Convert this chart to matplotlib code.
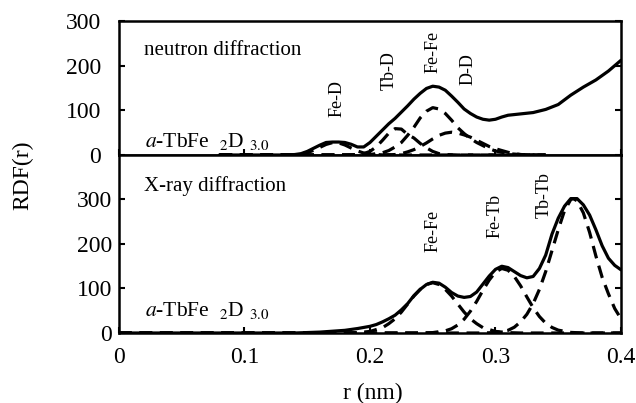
import matplotlib
matplotlib.use("Agg")
import matplotlib.pyplot as plt

plt.rcParams['font.family'] = ['Liberation Serif', 'DejaVu Serif']
plt.rcParams['mathtext.fontset'] = 'stix'

# ---- neutron diffraction (top) ----
n_r = [0.08, 0.10, 0.13, 0.14, 0.145, 0.15, 0.155, 0.16, 0.165, 0.17, 0.175, 0.18, 0.185, 0.19, 0.195,
       0.20, 0.205, 0.21, 0.215, 0.22, 0.225, 0.23, 0.235, 0.24, 0.245, 0.25, 0.255, 0.26, 0.265,
       0.27, 0.275, 0.28, 0.285, 0.29, 0.295, 0.30, 0.305, 0.31, 0.32, 0.33, 0.34, 0.35, 0.36,
       0.37, 0.38, 0.39, 0.40]
n_total = [0, 0, 0, 1, 3, 8, 15, 22, 28, 29, 29, 28, 24, 18, 18,
           28, 42, 56, 70, 82, 96, 110, 125, 138, 149, 154, 152, 145, 132,
           118, 103, 93, 85, 80, 78, 80, 85, 89, 92, 95, 102, 113, 134,
           152, 168, 188, 212]

fed_r = [0.08, 0.13, 0.14, 0.145, 0.15, 0.155, 0.16, 0.165, 0.17, 0.175, 0.18, 0.185, 0.19, 0.195, 0.20, 0.21, 0.22, 0.34]
fed_v = [0, 0.6, 0.8, 2.2, 5.2, 10.3, 17, 23.6, 27.6, 27.1, 22.4, 15.6, 9.1, 4.4, 1.8, 0.2, 0, 0]

tbd_r = [0.08, 0.18, 0.19, 0.195, 0.20, 0.205, 0.21, 0.215, 0.22, 0.225, 0.23, 0.235, 0.24, 0.245, 0.25, 0.255, 0.26, 0.27, 0.34]
tbd_v = [0, 0, 0.9, 3, 8.1, 18.2, 33, 49, 59, 58, 46, 38, 26, 16, 8, 3, 1, 0, 0]

fefe_n_r = [0.08, 0.19, 0.20, 0.21, 0.215, 0.22, 0.225, 0.23, 0.235, 0.24, 0.245, 0.25, 0.255, 0.26, 0.265,
            0.27, 0.275, 0.28, 0.285, 0.29, 0.295, 0.30, 0.305, 0.31, 0.32, 0.33, 0.34]
fefe_n_v = [0, 0, 1, 5, 10, 18, 28, 44, 62, 83, 98, 106, 103, 93, 78,
            61, 48, 37, 28, 21, 14, 9, 6, 3, 1, 0, 0]

dd_r = [0.08, 0.21, 0.22, 0.225, 0.23, 0.235, 0.24, 0.245, 0.25, 0.255, 0.26, 0.265, 0.27, 0.275, 0.28,
        0.285, 0.29, 0.295, 0.30, 0.305, 0.31, 0.315, 0.32, 0.33, 0.34]
dd_v = [0, 0, 1, 3, 7, 12, 19, 27, 36, 44, 49, 51, 49, 45, 40,
        33, 26, 19, 14, 10, 6, 3, 1, 0, 0]

# ---- X-ray diffraction (bottom) ----
x_r = [0.0, 0.05, 0.10, 0.14, 0.15, 0.16, 0.17, 0.18, 0.19, 0.20, 0.205, 0.21, 0.215, 0.22, 0.225,
       0.23, 0.235, 0.24, 0.245, 0.25, 0.255, 0.26, 0.265, 0.27, 0.275, 0.28, 0.285, 0.29, 0.295,
       0.30, 0.305, 0.31, 0.315, 0.32, 0.325, 0.33, 0.335, 0.34, 0.345, 0.35, 0.355, 0.36, 0.365,
       0.37, 0.375, 0.38, 0.385, 0.39, 0.395, 0.40]
x_total = [0, 0, 0, 0, 1, 2, 4, 6, 10, 15, 19, 25, 32, 40, 52,
           66, 84, 98, 109, 114, 112, 103, 91, 83, 80, 82, 92, 110, 128,
           143, 150, 147, 138, 129, 124, 127, 145, 175, 222, 258, 285, 302, 302,
           288, 265, 232, 196, 168, 152, 142]

fefe_x_r = [0.0, 0.15, 0.18, 0.19, 0.20, 0.21, 0.215, 0.22, 0.225, 0.23, 0.235, 0.24, 0.245, 0.25, 0.255,
            0.26, 0.265, 0.27, 0.275, 0.28, 0.285, 0.29, 0.30, 0.31, 0.32, 0.40]
fefe_x_v = [0, 0, 0.1, 0.8, 3.5, 12, 21, 32, 47, 65, 83, 98, 109, 113, 109,
            98, 83, 65, 47, 32, 21, 12, 3.5, 0.8, 0, 0]

fetb_r = [0.0, 0.24, 0.25, 0.26, 0.265, 0.27, 0.275, 0.28, 0.285, 0.29, 0.295, 0.30, 0.305, 0.31, 0.315,
          0.32, 0.325, 0.33, 0.335, 0.34, 0.345, 0.35, 0.36, 0.37, 0.40]
fetb_v = [0, 0, 0.9, 4.8, 9.6, 18, 31, 49, 71, 96, 119, 137, 145, 141, 127,
          106, 81, 57, 37, 22, 12.5, 6.4, 1.3, 0, 0]

tbtb_r = [0.0, 0.29, 0.30, 0.31, 0.315, 0.32, 0.325, 0.33, 0.335, 0.34, 0.345, 0.35, 0.355, 0.36, 0.362,
          0.365, 0.37, 0.375, 0.38, 0.385, 0.39, 0.395, 0.40]
tbtb_v = [0, 0, 1, 6, 13, 25, 42, 66, 98, 138, 185, 232, 275, 300, 302,
          297, 270, 226, 173, 125, 88, 55, 32]

top_labels = ['Fe-D', 'Tb-D', 'Fe-Fe', 'D-D']
top_label_r = [0.174, 0.215, 0.250, 0.278]
top_label_y = [85, 145, 183, 157]
bot_labels = ['Fe-Fe', 'Fe-Tb', 'Tb-Tb']
bot_label_r = [0.250, 0.300, 0.339]
bot_label_y = [182, 213, 258]

fig = plt.figure(figsize=(6.36, 4.03), dpi=100)
ax1 = fig.add_axes([0.1871, 0.6154, 0.7893, 0.3325])
ax2 = fig.add_axes([0.1871, 0.1737, 0.7893, 0.4417])

solid = dict(color='black', lw=2.3, solid_capstyle='round')
dash = dict(color='black', lw=2.3, ls=(0, (4, 2.4)))

ax1.plot(fed_r, fed_v, **dash)
ax1.plot(tbd_r, tbd_v, **dash)
ax1.plot(fefe_n_r, fefe_n_v, **dash)
ax1.plot(dd_r, dd_v, **dash)
ax1.plot(n_r, n_total, **solid)

ax2.plot(fefe_x_r, fefe_x_v, **dash)
ax2.plot(fetb_r, fetb_v, **dash)
ax2.plot(tbtb_r, tbtb_v, **dash)
ax2.plot(x_r, x_total, **solid)

ax1.set_xlim(0, 0.4)
ax1.set_ylim(0, 300)
ax2.set_xlim(0, 0.4)
ax2.set_ylim(0, 400)

for ax in (ax1, ax2):
    for sp in ax.spines.values():
        sp.set_linewidth(1.8)
    ax.tick_params(axis='both', which='both', direction='in', length=4, width=1.5,
                   labelsize=17, right=True)
    ax.set_xticks([0, 0.1, 0.2, 0.3, 0.4])

ax1.set_yticks([0, 100, 200, 300])
ax1.set_yticklabels(['0', '100', '200', '300'])
ax1.tick_params(axis='x', labelbottom=False)
ax2.set_yticks([0, 100, 200, 300])
ax2.set_xticklabels(['0', '0.1', '0.2', '0.3', '0.4'])
ax1.tick_params(axis='y', pad=13)
ax2.tick_params(axis='y', pad=5)
ax2.tick_params(axis='x', pad=10)

ax1.text(0.020, 235, 'neutron diffraction', fontsize=15, va='center', ha='left')
ax2.text(0.020, 330, 'X-ray diffraction', fontsize=15, va='center', ha='left')
sample = r'$a$-TbFe  $_{2}$D $_{3.0}$'
ax1.text(0.021, 30, sample, fontsize=15.5, va='center', ha='left')
ax2.text(0.021, 50, sample, fontsize=15.5, va='center', ha='left')

for lab, r, y in zip(top_labels, top_label_r, top_label_y):
    ax1.text(r, y, lab, rotation=90, fontsize=13, ha='center', va='bottom')
for lab, r, y in zip(bot_labels, bot_label_r, bot_label_y):
    ax2.text(r, y, lab, rotation=90, fontsize=13, ha='center', va='bottom', clip_on=False)

fig.text(23 / 636, 1 - 175 / 403, 'RDF(r)', rotation=90, fontsize=17, ha='center', va='center')
fig.text(373 / 636, 1 - 393 / 403, 'r (nm)', fontsize=17, ha='center', va='center')

fig.savefig('out.png', dpi=100)
